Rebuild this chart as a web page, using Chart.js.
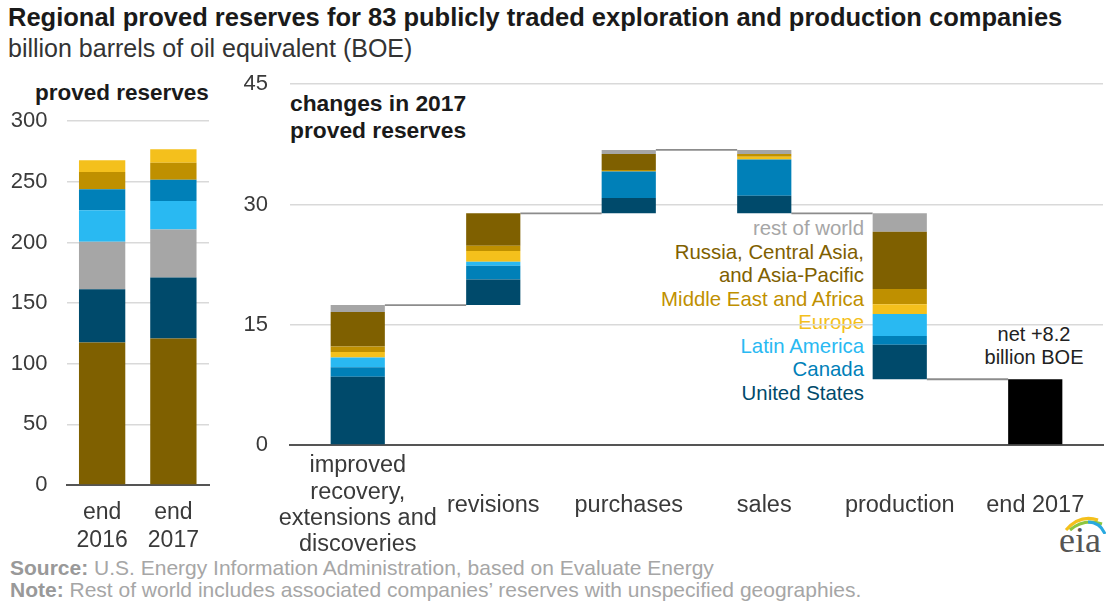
<!DOCTYPE html>
<html>
<head>
<meta charset="utf-8">
<script src="https://cdn.jsdelivr.net/npm/chart.js@4.4.1/dist/chart.umd.min.js"></script>
<style>
  body { margin: 0; width: 1107px; height: 603px; background: #fff; font-family: 'Liberation Sans', Arial, sans-serif; position: relative; overflow: hidden; }
  .abs { position: absolute; white-space: nowrap; }
  #title { left: 8px; top: 3px; font-size: 25.5px; font-weight: bold; color: #1a1a1a; }
  #subtitle { left: 8px; top: 34px; font-size: 25px; color: #333; }
  #leftHead { left: 35px; top: 80px; font-size: 22.5px; font-weight: bold; color: #1a1a1a; }
  #rightHead { left: 290px; top: 90px; font-size: 22.8px; font-weight: bold; color: #1a1a1a; line-height: 27px; }
  #legend { right: 243px; top: 217px; font-size: 20.4px; line-height: 23.5px; text-align: right; }
  #net { left: 974px; top: 323px; width: 120px; font-size: 20px; line-height: 23px; text-align: center; color: #222; }
  #foot { left: 10px; top: 557px; font-size: 21px; line-height: 22px; color: #a6a6a6; }
  #foot b { color: #999; }
  #logo { left: 1058px; top: 510px; width: 48px; height: 50px; }
  #logo span { position: absolute; left: 1px; top: 12px; font-family: 'Liberation Serif', 'DejaVu Serif', serif; font-size: 36px; color: #555; line-height: 36px; }
  #leftChart { position: absolute; left: 0; top: 89px; }
  #rightChart { position: absolute; left: 230px; top: 49px; }
</style>
</head>
<body>
<div class="abs" id="title">Regional proved reserves for 83 publicly traded exploration and production companies</div>
<div class="abs" id="subtitle">billion barrels of oil equivalent (BOE)</div>
<div class="abs" id="leftHead">proved reserves</div>
<div class="abs" id="rightHead">changes in 2017<br>proved reserves</div>
<div class="abs" id="legend">
  <div style="color:#a6a6a6">rest of world</div>
  <div style="color:#7f6000">Russia, Central Asia,<br>and Asia-Pacific</div>
  <div style="color:#bf9000">Middle East and Africa</div>
  <div style="color:#f4c01c">Europe</div>
  <div style="color:#29b9f2">Latin America</div>
  <div style="color:#0080b8">Canada</div>
  <div style="color:#004a6b">United States</div>
</div>
<div class="abs" id="net">net +8.2<br>billion BOE</div>
<div class="abs" id="foot"><b>Source:</b> U.S. Energy Information Administration, based on Evaluate Energy<br><b>Note:</b> Rest of world includes associated companies’ reserves with unspecified geographies.</div>
<div class="abs" id="logo">
  <svg width="48" height="24" style="position:absolute;left:0;top:0">
    <path d="M8 20 Q22 4 40 10" stroke="#f4c01c" stroke-width="3" fill="none"/>
    <path d="M12 20 Q26 8 44 14" stroke="#8cc63f" stroke-width="3" fill="none"/>
    <path d="M30 12 Q42 12 47 24" stroke="#29a9e0" stroke-width="3" fill="none"/>
  </svg>
  <span>eia</span>
</div>
<canvas id="leftChart" width="225" height="471"></canvas>
<canvas id="rightChart" width="877" height="511"></canvas>
<script>
// region names, bottom-up order used in the changes chart
const regions = ['United States', 'Canada', 'Latin America', 'Europe', 'Middle East and Africa',
  'Russia, Central Asia, and Asia-Pacific', 'rest of world'];
const regionColors = ['#004a6b', '#0080b8', '#29b9f2', '#f4c01c', '#bf9000', '#7f6000', '#a6a6a6'];

// left panel: totals at end 2016 / end 2017 (bottom-up order as drawn there)
const reserveYears = [['end', '2016'], ['end', '2017']];
const leftOrder = [5, 0, 6, 2, 1, 4, 3];
const russiaAsia = [117.5, 120.8];
const unitedStates = [44, 50.3];
const restOfWorld = [39, 39.5];
const latinAmerica = [26, 23.6];
const canada = [17.3, 17.6];
const middleEast = [14.3, 14];
const europe = [9.6, 11];
const leftSeries = [russiaAsia, unitedStates, restOfWorld, latinAmerica, canada, middleEast, europe];

// right panel: changes by region (US, Canada, LatAm, Europe, ME&A, Russia/Asia, RoW)
const changeLabels = [['improved', 'recovery,', 'extensions and', 'discoveries'], 'revisions', 'purchases', 'sales', 'production', 'end 2017'];
const improved = [8.5, 1.2, 1.2, 0.7, 0.7, 4.3, 0.85];
const revisions = [3.2, 1.7, 0.5, 1.35, 0.65, 4.05, 0];
const purchases = [1.9, 3.3, 0, 0, 0.2, 2.0, 0.5];
const sales = [-2.2, -4.5, 0, -0.35, -0.35, 0, -0.5];
const production = [-4.3, -1.1, -2.75, -1.2, -1.9, -7.15, -2.3];
const changes = [improved, revisions, purchases, sales, production];

const font = "'Liberation Sans', Arial, sans-serif";
const tickColor = '#3a3a3a';
const gridColor = '#d9d9d9';

new Chart(document.getElementById('leftChart'), {
  type: 'bar',
  data: {
    labels: reserveYears,
    datasets: leftSeries.map((vals, i) => ({
      label: regions[leftOrder[i]],
      data: vals,
      backgroundColor: regionColors[leftOrder[i]],
      borderWidth: 0,
      barPercentage: 0.65,
      categoryPercentage: 1
    }))
  },
  options: {
    responsive: false,
    animation: false,
    layout: { padding: { top: 21, right: 16, left: 0, bottom: 0 } },
    plugins: { legend: { display: false }, tooltip: { enabled: false } },
    scales: {
      x: {
        stacked: true,
        grid: { display: false, drawTicks: false },
        border: { color: '#555', width: 2 },
        ticks: { color: tickColor, font: { family: font, size: 23 }, padding: 14, maxRotation: 0, autoSkip: false },
        afterFit: s => { s.height = 75; }
      },
      y: {
        stacked: true,
        min: 0, max: 300,
        ticks: { stepSize: 50, color: tickColor, font: { family: font, size: 22 }, padding: 19 },
        grid: { color: gridColor, lineWidth: 1.5, drawTicks: false },
        border: { display: false },
        afterFit: s => { s.width = 66.5; }
      }
    }
  }
});

// build floating segments for the waterfall from the change arrays
const nCat = changeLabels.length;
const levels = [0];
changes.forEach(c => levels.push(levels[levels.length - 1] + c.reduce((a, b) => a + b, 0)));
const netTotal = levels[levels.length - 1];

const waterSets = regions.map((name, r) => {
  const data = [];
  changes.forEach((c, k) => {
    const start = levels[k], end = levels[k + 1];
    const base = Math.min(start, end);
    let below = 0;
    for (let j = 0; j < r; j++) below += Math.abs(c[j]);
    const v = Math.abs(c[r]);
    data.push(v > 0 ? [base + below, base + below + v] : null);
  });
  data.push(null);
  return { label: name, data, backgroundColor: regionColors[r], borderWidth: 0, grouped: false,
    barPercentage: 0.4, categoryPercentage: 1 };
});
const netData = new Array(nCat).fill(null);
netData[nCat - 1] = [0, netTotal];
waterSets.push({ label: 'net', data: netData, backgroundColor: '#000', borderWidth: 0, grouped: false,
  barPercentage: 0.4, categoryPercentage: 1 });

const connectors = {
  id: 'connectors',
  beforeDatasetsDraw(chart) {
    const { ctx, scales: { x, y } } = chart;
    const half = x.getPixelForValue(1) - x.getPixelForValue(0);
    const w = half * 0.4 / 2;
    ctx.save();
    ctx.strokeStyle = '#8c8c8c';
    ctx.lineWidth = 1.8;
    for (let k = 0; k < nCat - 1; k++) {
      const yy = y.getPixelForValue(levels[k + 1]);
      ctx.beginPath();
      ctx.moveTo(x.getPixelForValue(k) + w, yy);
      ctx.lineTo(x.getPixelForValue(k + 1) - w, yy);
      ctx.stroke();
    }
    ctx.restore();
  }
};

new Chart(document.getElementById('rightChart'), {
  type: 'bar',
  data: { labels: changeLabels, datasets: waterSets },
  options: {
    responsive: false,
    animation: false,
    layout: { padding: { top: 24, right: 4, left: 0, bottom: 0 } },
    plugins: { legend: { display: false }, tooltip: { enabled: false } },
    scales: {
      x: {
        grid: { display: false, drawTicks: false },
        border: { color: '#555', width: 2 },
        ticks: { color: tickColor, font: { family: font, size: 23.5, lineHeight: 1.11 }, padding: 21,
          maxRotation: 0, autoSkip: false, crossAlign: 'center' },
        afterFit: s => { s.height = 115; }
      },
      y: {
        min: 0, max: 45,
        ticks: { stepSize: 15, color: tickColor, font: { family: font, size: 22 }, padding: 22 },
        grid: { color: gridColor, lineWidth: 1.5, drawTicks: false },
        border: { display: false },
        afterFit: s => { s.width = 60; }
      }
    }
  },
  plugins: [connectors]
});
</script>
</body>
</html>
